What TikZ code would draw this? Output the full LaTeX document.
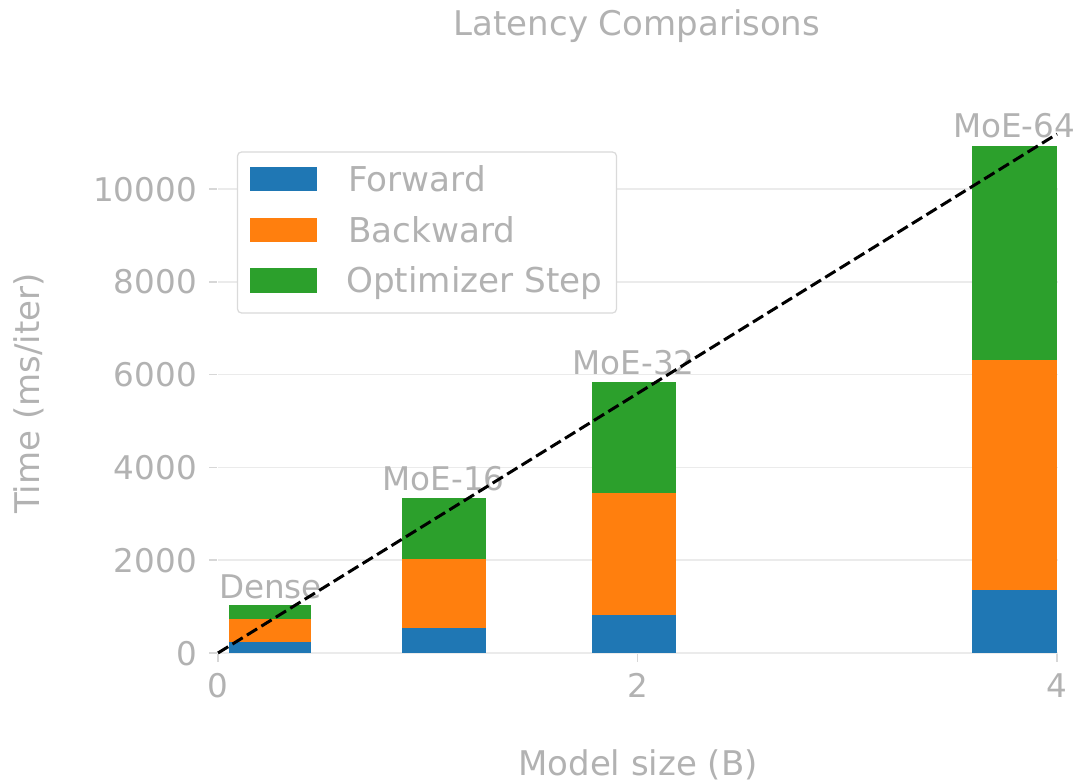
\documentclass[tikz,border=0pt]{standalone}
\usepackage{fontspec}
\setmainfont{DejaVu Sans}
\definecolor{txt}{RGB}{178,178,178}
\definecolor{gridc}{RGB}{235,235,235}
\definecolor{tickc}{RGB}{215,215,215}
\definecolor{legc}{RGB}{218,218,218}
\definecolor{fwd}{HTML}{1F77B4}
\definecolor{bwd}{HTML}{FF7F0E}
\definecolor{opt}{HTML}{2CA02C}
\newcommand{\stackedbar}[5]{%
  \fill[fwd] (#1,653) rectangle (#2,#3);
  \fill[bwd] (#1,#3) rectangle (#2,#4);
  \fill[opt] (#1,#4) rectangle (#2,#5);}
\begin{document}
\begin{tikzpicture}[x=1pt,y=-1pt,
  lbl/.style={text=txt, font=\fontsize{32.6}{39}\selectfont, inner sep=0pt},
  leg/.style={text=txt, font=\fontsize{34.2}{40}\selectfont, inner sep=0pt},
  big/.style={text=txt, font=\fontsize{34}{40}\selectfont, inner sep=0pt},
  gridline/.style={draw=gridc, line width=1.6pt},
  tickmark/.style={draw=tickc, line width=1.6pt},
  trend/.style={draw=black, line width=3pt, dash pattern=on 12pt off 5pt}]
\useasboundingbox[fill=white] (0,0) rectangle (1084,784);
% grid lines, ticks, tick labels
\foreach \y/\v in {653/0,560.2/2000,467.4/4000,374.6/6000,281.8/8000,189/10000}{
  \draw[gridline] (218,\y) -- (1058,\y);
  \draw[tickmark] (209,\y) -- (217,\y);
  \node[lbl, anchor=base east] (yt\v) at (197,\y+12) {\v};
}
\foreach \x/\v in {218/0,637.5/2,1057/4}{
  \draw[tickmark] (\x,654) -- (\x,662);
  \node[lbl, anchor=base] (xt\v) at (\x,697) {\v};
}
% bars
\stackedbar{229}{311}{642}{619}{605}
\stackedbar{401.5}{485.5}{628}{559}{497.5}
\stackedbar{591.5}{675.5}{615}{493}{381.5}
\stackedbar{971.5}{1056.5}{589.5}{360}{145.5}
% bar labels
\node[lbl, anchor=base] (ldense) at (270.5,598) {Dense};
\node[lbl, anchor=base] (l16) at (443.5,490) {MoE-16};
\node[lbl, anchor=base] (l32) at (633.5,374) {MoE-32};
\node[lbl, anchor=base] (l64) at (1014,137) {MoE-64};
% titles
\node[big, anchor=base] (title) at (637,36) {Latency Comparisons};
\node[big, anchor=base] (xlabel) at (638,775) {Model size (B)};
\node[big, anchor=base, rotate=90] (ylabel) at (39,393.5) {Time (ms/iter)};
% legend
\draw[draw=legc, fill=white, line width=1.2pt, rounded corners=4pt] (237.5,152) rectangle (616.5,313);
\fill[fwd] (250,166.7) rectangle (316.7,191);
\fill[bwd] (250,217.7) rectangle (316.7,242);
\fill[opt] (250,268.3) rectangle (316.7,293.3);
\node[leg, anchor=base west] (kf) at (348,191) {Forward};
\node[leg, anchor=base west] (kb) at (348,242) {Backward};
\node[leg, anchor=base west] (ko) at (346,292.5) {Optimizer Step};
% trend line
\coordinate (o) at (218,653);
\coordinate (e) at (1057,134);
\draw[trend] (o) -- (e);
\end{tikzpicture}
\end{document}
